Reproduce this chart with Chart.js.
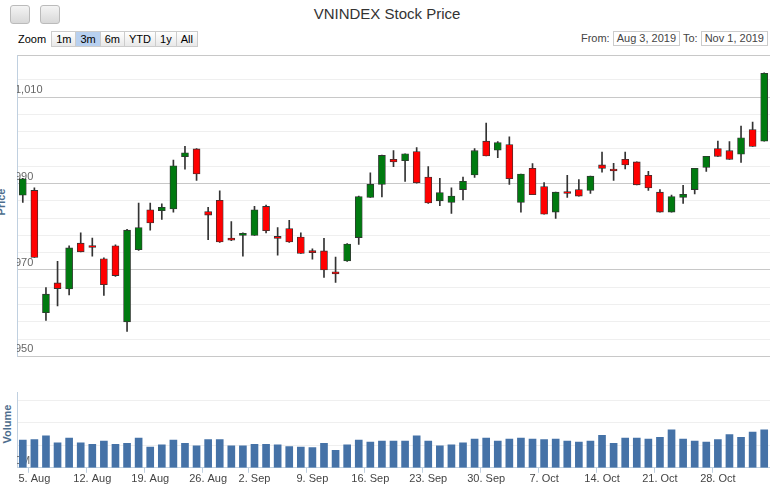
<!DOCTYPE html>
<html><head><meta charset="utf-8">
<script src="https://cdn.jsdelivr.net/npm/chart.js@4"></script>
<style>
body{margin:0;width:774px;height:484px;position:relative;overflow:hidden;background:#fff;font-family:"Liberation Sans",Arial,sans-serif;}
.abs{position:absolute}
.ib{position:absolute;top:5px;width:18px;height:17px;border:1px solid #bbb;border-radius:3px;background:linear-gradient(#f4f4f4,#d8d8d8)}
.btn{display:inline-block;border:1px solid #ccc;background:linear-gradient(#fff,#e8e8e8);font-size:11px;padding:0 4px;height:14px;line-height:14px;color:#000;margin-right:-1px}
.sel{background:#b8d0ef}
.box{display:inline-block;border:1px solid #ccc;font-size:11px;padding:0 3px;height:13px;line-height:13px;color:#444}
</style></head><body>
<div class="ib" style="left:10px"></div><div class="ib" style="left:40px"></div>
<div class="abs" style="left:0;width:774px;top:5px;text-align:center;font-size:15px;color:#333">VNINDEX Stock Price</div>
<div class="abs" style="left:18px;top:31px;font-size:11px;color:#000">Zoom <span class="btn" style="margin-left:2px">1m</span><span class="btn sel">3m</span><span class="btn">6m</span><span class="btn">YTD</span><span class="btn">1y</span><span class="btn">All</span></div>
<div class="abs" style="right:6px;top:31px;font-size:11px;color:#444">From: <span class="box">Aug 3, 2019</span> To: <span class="box">Nov 1, 2019</span></div>
<div class="abs" style="left:-12px;top:196px;transform:rotate(-90deg);font-size:11px;font-weight:bold;color:#4d6d8d">Price</div>
<div class="abs" style="left:-12px;top:418px;transform:rotate(-90deg);font-size:11px;font-weight:bold;color:#4d6d8d">Volume</div>
<div class="abs" style="left:17px;top:51px;width:753px;height:310px"><canvas id="p"></canvas></div>
<div class="abs" style="left:17px;top:388px;width:753px;height:98px"><canvas id="v"></canvas></div>
<script>
const open_=[987.3,988.4,960.1,967.0,965.6,976.2,975.4,972.6,975.6,958.0,974.7,983.9,983.7,984.1,996.2,998.0,983.5,986.1,977.1,978.0,978.0,984.7,977.6,979.6,977.6,974.4,974.4,969.5,972.1,977.5,986.8,989.8,995.6,995.3,997.4,991.5,986.0,985.6,988.6,992.0,999.8,997.7,999.0,985.6,993.5,989.3,983.4,987.8,988.6,988.4,994.3,993.2,995.6,995.0,991.9,988.0,983.4,986.8,988.6,993.7,998.1,997.6,996.8,1002.5,999.8];
const close_=[991.1,972.9,964.4,965.7,975.1,974.2,975.2,966.6,968.7,979.2,979.8,980.9,984.5,994.1,997.1,992.2,982.7,976.5,976.9,978.5,983.9,979.1,977.3,976.5,973.8,974.0,970.0,969.1,976.0,987.0,989.8,996.5,995.0,996.9,990.2,985.5,987.9,987.1,990.5,997.6,996.4,999.5,991.1,992.2,987.4,982.9,988.0,987.7,987.1,991.7,993.5,992.9,994.3,989.7,989.0,983.4,987.0,987.5,993.5,996.3,996.3,995.6,1000.6,998.6,1015.5];
const high_=[991.2,989.0,965.9,972.0,975.6,978.6,977.4,972.8,975.8,979.4,985.5,985.5,985.3,995.4,998.6,998.1,984.5,988.3,981.2,978.6,984.7,985.0,979.8,981.5,978.6,974.9,977.3,973.0,976.1,987.1,992.5,996.6,997.6,996.9,998.3,993.9,991.2,989.0,991.5,998.1,1004.0,999.7,1000.8,992.2,994.6,990.2,988.0,991.9,990.9,991.7,997.3,994.7,997.3,995.0,992.8,988.6,987.3,989.6,993.5,996.3,999.8,999.7,1003.3,1004.2,1015.6];
const low_=[985.6,972.9,958.3,961.7,964.2,974.2,973.2,964.1,968.5,955.8,974.5,979.2,981.7,983.4,993.3,990.7,977.0,976.4,976.8,973.2,978.0,978.6,973.4,976.4,973.8,972.5,968.3,967.1,972.0,975.9,986.8,986.9,993.9,990.5,990.1,985.4,984.9,983.1,986.2,991.4,996.4,996.0,989.8,983.4,987.4,982.9,981.9,986.8,987.1,987.7,992.6,990.7,993.4,989.7,988.4,983.4,983.4,985.4,987.6,992.8,996.3,995.6,994.9,998.6,999.8];
const volumeM=[147,150,170,133,158,133,125,142,125,130,158,110,122,147,130,117,150,150,117,117,125,125,122,113,110,107,130,93,122,147,137,142,142,142,170,142,117,122,133,153,158,142,153,158,153,150,153,142,137,142,173,130,158,158,153,162,202,153,142,137,150,177,162,190,202];
const tickLabels={1:'5. Aug',6:'12. Aug',11:'19. Aug',16:'26. Aug',20:'2. Sep',25:'9. Sep',30:'16. Sep',35:'23. Sep',40:'30. Sep',45:'7. Oct',50:'14. Oct',55:'21. Oct',60:'28. Oct'};
const cats=open_.map((_,i)=>i);
const up=open_.map((o,i)=>close_[i]>=o);
const font={family:'"Liberation Sans",Arial,sans-serif',size:11};
const xCommon={type:'category',offset:true,grid:{display:false},border:{color:'#c0d0e0'}};
new Chart(document.getElementById('p'),{type:'bar',
 data:{labels:cats,datasets:[
  {data:open_.map((o,i)=>[o,close_[i]]),backgroundColor:up.map(u=>u?'#007a10':'#f00'),borderColor:'#333',borderWidth:0.8,borderSkipped:false,barThickness:7,minBarLength:2,grouped:false,order:0},
  {data:low_.map((l,i)=>[l,high_[i]]),backgroundColor:'#333',borderWidth:0,barThickness:1,grouped:false,order:1}]},
 options:{animation:false,responsive:true,maintainAspectRatio:false,layout:{padding:0},
  plugins:{legend:{display:false},tooltip:{enabled:false}},
  scales:{x:{...xCommon,display:false},
   y:{min:950,max:1019.6,afterFit:s=>{s.width=0},border:{color:'#c0d0e0'},
     ticks:{stepSize:2,mirror:true,padding:-2,labelOffset:-7,color:'#666',font,callback:v=>(Math.round(v)%10===0&&v<1019)?v.toLocaleString('en-US'):''},
     grid:{color:c=>Math.round(c.tick.value)%10===0?'#c8c8c8':'#efefef',drawTicks:false}}}}});
new Chart(document.getElementById('v'),{type:'bar',
 data:{labels:cats,datasets:[{data:volumeM,backgroundColor:'#4572a7',barThickness:7}]},
 options:{animation:false,responsive:true,maintainAspectRatio:false,layout:{padding:0},
  plugins:{legend:{display:false},tooltip:{enabled:false}},
  scales:{x:{...xCommon,grid:{display:true,drawOnChartArea:false,tickLength:5,color:c=>tickLabels[c.index]?'#c0d0e0':'rgba(0,0,0,0)'},
     ticks:{autoSkip:false,maxRotation:0,color:'#444',font,padding:0,callback:(v,i)=>tickLabels[i]||''}},
   y:{min:0,max:400,afterFit:s=>{s.width=0},border:{color:'#c0d0e0'},
     ticks:{stepSize:40,mirror:true,padding:-2,labelOffset:-7,color:'#666',font,callback:v=>v===0?'0M':(v===200?'200M':'')},
     grid:{color:c=>c.tick.value===200||c.tick.value===400?'#c8c8c8':'#efefef',drawTicks:false}}}}});
</script></body></html>
